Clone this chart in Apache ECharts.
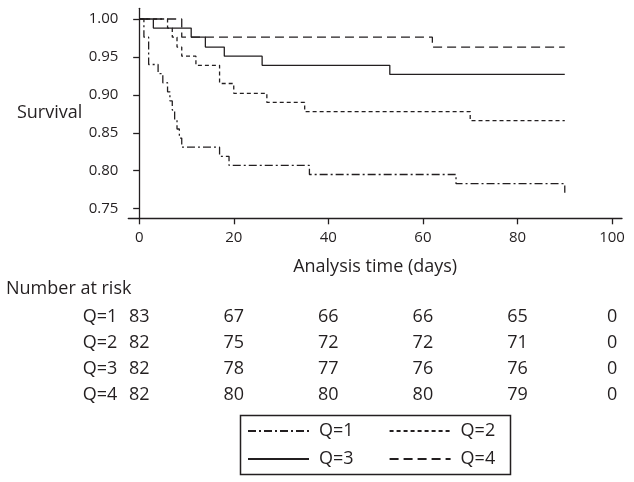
<!DOCTYPE html>
<html>
<head>
<meta charset="utf-8">
<script src="https://cdn.jsdelivr.net/npm/echarts@6/dist/echarts.min.js"></script>
<style>
html,body{margin:0;padding:0;background:#fff;}
#chart{width:634px;height:482px;}
</style>
</head>
<body>
<div id="chart"></div>
<script>
// ---- Data ----
const groupNames = ['Q=1', 'Q=2', 'Q=3', 'Q=4'];

const q1Times = [0, 1, 2, 4, 5, 6, 6.5, 7, 7.5, 8, 8.5, 9, 17, 19, 36, 67, 90];
const q1Surv  = [1.000, 0.976, 0.940, 0.928, 0.916, 0.904, 0.892, 0.880, 0.867, 0.855, 0.843, 0.831, 0.819, 0.807, 0.795, 0.783, 0.771];

const q2Times = [0, 6, 7, 8, 9, 12, 17, 20, 27, 35, 70, 90];
const q2Surv  = [1.000, 0.988, 0.976, 0.963, 0.951, 0.939, 0.915, 0.902, 0.890, 0.878, 0.866, 0.866];

const q3Times = [0, 3, 11, 14, 18, 26, 53, 90];
const q3Surv  = [1.000, 0.988, 0.976, 0.963, 0.951, 0.939, 0.927, 0.927];

const q4Times = [0, 9, 62, 90];
const q4Surv  = [1.000, 0.976, 0.963, 0.963];

const xTicks = [0, 20, 40, 60, 80, 100];
const yTicks = [0.75, 0.80, 0.85, 0.90, 0.95, 1.00];

const riskTimes = [0, 20, 40, 60, 80, 100];
const riskQ1 = [83, 67, 66, 66, 65, 0];
const riskQ2 = [82, 75, 72, 72, 71, 0];
const riskQ3 = [82, 78, 77, 76, 76, 0];
const riskQ4 = [82, 80, 80, 80, 79, 0];

// ---- Build ----
const INK = '#231f20';
const FONT = '"Open Sans", "Noto Sans", sans-serif';
const XMIN = -2.3, XMAX = 102.1;

function pairs(t, s) { return t.map((v, i) => [v, s[i]]); }
const curves = [
  { name: groupNames[0], data: pairs(q1Times, q1Surv), dash: [8, 3, 2, 3] },
  { name: groupNames[1], data: pairs(q2Times, q2Surv), dash: [4, 3] },
  { name: groupNames[2], data: pairs(q3Times, q3Surv), dash: 'solid' },
  { name: groupNames[3], data: pairs(q4Times, q4Surv), dash: [9, 5] }
];
const riskRows = [riskQ1, riskQ2, riskQ3, riskQ4];
const riskData = [];
riskRows.forEach((row, r) => row.forEach((n, i) => riskData.push([riskTimes[i], groupNames[r], n])));

const series = curves.map(c => ({
  name: c.name,
  type: 'line',
  xAxisIndex: 0, yAxisIndex: 0,
  step: 'end',
  symbol: 'none',
  showSymbol: false,
  data: c.data,
  lineStyle: { color: INK, width: 1.3, type: c.dash },
  itemStyle: { color: INK },
  emphasis: { disabled: true },
  silent: true
}));
series.push({
  name: 'atrisk',
  type: 'scatter',
  xAxisIndex: 1, yAxisIndex: 1,
  symbolSize: 0,
  itemStyle: { color: INK, opacity: 1 },
  data: riskData,
  label: {
    show: true, position: 'inside', opacity: 1,
    formatter: p => String(p.value[2]),
    color: INK, fontSize: 18, fontFamily: FONT, textBorderWidth: 0
  },
  emphasis: { disabled: true },
  silent: true
});

const legendCommon = {
  padding: 0,
  itemWidth: 61, itemHeight: 14, itemGap: 35,
  itemStyle: { opacity: 0, borderWidth: 0 },
  textStyle: { fontSize: 18, color: INK, fontFamily: FONT, padding: [0, 0, 0, 5] },
  selectedMode: false
};

const chart = echarts.init(document.getElementById('chart'), null, { renderer: 'canvas' });
chart.setOption({
  animation: false,
  backgroundColor: '#fff',
  textStyle: { fontFamily: FONT, color: INK },
  grid: [
    { left: 128.3, right: 12, top: 8.3, bottom: 263.7, containLabel: false },
    { left: 128.3, right: 12, top: 304, height: 104, containLabel: false }
  ],
  xAxis: [
    {
      type: 'value', gridIndex: 0, min: XMIN, max: XMAX,
      name: 'Analysis time (days)', nameLocation: 'middle', nameGap: 40,
      nameTextStyle: { fontSize: 18, color: INK, fontFamily: FONT },
      axisLine: { show: true, lineStyle: { color: INK, width: 1.3 } },
      axisTick: { show: true, inside: false, length: 6, customValues: xTicks, lineStyle: { color: INK, width: 1.3 } },
      axisLabel: { customValues: xTicks, margin: 12, fontSize: 15, color: INK, fontFamily: FONT },
      splitLine: { show: false }
    },
    {
      type: 'value', gridIndex: 1, min: XMIN, max: XMAX, show: false
    }
  ],
  yAxis: [
    {
      type: 'value', gridIndex: 0, min: 0.7373, max: 1.0141,
      name: 'Survival', nameLocation: 'middle', nameRotate: 0, nameGap: 46,
      nameTextStyle: { fontSize: 18, color: INK, fontFamily: FONT, align: 'right', verticalAlign: 'middle' },
      axisLine: { show: true, lineStyle: { color: INK, width: 1.3 } },
      axisTick: { show: true, inside: false, length: 6, customValues: yTicks, lineStyle: { color: INK, width: 1.3 } },
      axisLabel: { customValues: yTicks, margin: 10, fontSize: 15, color: INK, fontFamily: FONT,
                   formatter: v => Number(v).toFixed(2) },
      splitLine: { show: false }
    },
    {
      type: 'category', gridIndex: 1, data: groupNames, inverse: true,
      axisLine: { show: false }, axisTick: { show: false }, splitLine: { show: false },
      axisLabel: { margin: 11, fontSize: 18, color: INK, fontFamily: FONT }
    }
  ],
  legend: [
    Object.assign({ data: [groupNames[0], groupNames[1]], left: 247, top: 422 }, legendCommon),
    Object.assign({ data: [groupNames[2], groupNames[3]], left: 247, top: 450 }, legendCommon)
  ],
  graphic: [
    {
      type: 'text', left: 6, top: 280,
      style: { text: 'Number at risk', font: '18px ' + FONT, fill: INK }
    },
    {
      type: 'rect', left: 238, top: 413,
      shape: { width: 270, height: 59 },
      style: { fill: 'none', stroke: INK, lineWidth: 1.5 }
    }
  ],
  series: series
});
</script>
</body>
</html>
